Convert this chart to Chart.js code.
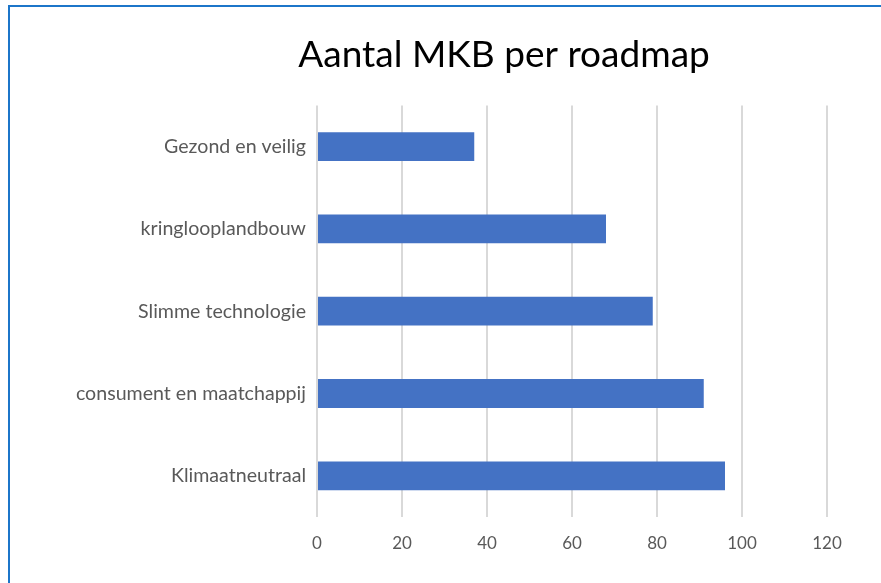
<!DOCTYPE html>
<html>
<head>
<meta charset="utf-8">
<script src="https://cdn.jsdelivr.net/npm/chart.js@4/dist/chart.umd.min.js"></script>
<style>
    html, body { margin: 0; padding: 0; background: #fff; overflow: hidden; }
    #frame {
        position: absolute;
        left: 8px;
        top: 5px;
        width: 988px;
        height: 600px;
        border: 2px solid #1c75c9;
    }
    #chart-wrap { position: relative; width: 988px; height: 576px; }
</style>
</head>
<body>
<div id="frame">
    <div id="chart-wrap"><canvas id="mkb-chart"></canvas></div>
</div>
<script>
const roadmaps = ['Gezond en veilig', 'kringlooplandbouw', 'Slimme technologie', 'consument en maatchappij', 'Klimaatneutraal'];
const aantalMkb = [37, 68, 79, 91, 96];
const xMin = 0;
const xMax = 120;
const xStep = 20;

const textColor = '#595959';
const fontFamily = 'Lato, "Open Sans", sans-serif';

// titel centreren over de hele breedte, niet alleen over het plotgebied
const fullWidthTitle = {
    id: 'fullWidthTitle',
    afterLayout(chart) {
        if (chart.titleBlock) {
            chart.titleBlock.left = 0;
            chart.titleBlock.right = chart.width;
        }
    }
};

const ctx = document.getElementById('mkb-chart').getContext('2d');

// de grafiek is breder dan het venster (net als in het origineel afgesneden)
new Chart(ctx, {
    type: 'bar',
    data: {
        labels: roadmaps,
        datasets: [{
            label: 'Aantal MKB',
            data: aantalMkb,
            backgroundColor: '#4472c4',
            borderWidth: 0,
            categoryPercentage: 1,
            barPercentage: 0.35
        }]
    },
    options: {
        indexAxis: 'y',
        responsive: true,
        maintainAspectRatio: false,
        animation: false,
        layout: {
            padding: { top: 0, bottom: 6, left: 0, right: 171 }
        },
        plugins: {
            legend: { display: false },
            tooltip: { enabled: false },
            title: {
                display: true,
                text: 'Aantal MKB per roadmap',
                color: '#000',
                font: { family: fontFamily, size: 37, weight: 'normal', lineHeight: 1.2 },
                padding: { top: 26, bottom: 28 }
            }
        },
        scales: {
            x: {
                min: xMin,
                max: xMax,
                ticks: {
                    stepSize: xStep,
                    color: textColor,
                    padding: 16,
                    font: { family: fontFamily, size: 17 }
                },
                grid: { color: '#d9d9d9', lineWidth: 2, drawTicks: false },
                border: { display: false },
                afterFit: function(scale) { scale.height = 60; }
            },
            y: {
                ticks: {
                    color: textColor,
                    padding: 11,
                    font: { family: fontFamily, size: 19.6 }
                },
                grid: { display: false, drawTicks: false },
                border: { display: false },
                afterFit: function(scale) { scale.width = 307; }
            }
        }
    },
    plugins: [fullWidthTitle]
});
</script>
</body>
</html>
